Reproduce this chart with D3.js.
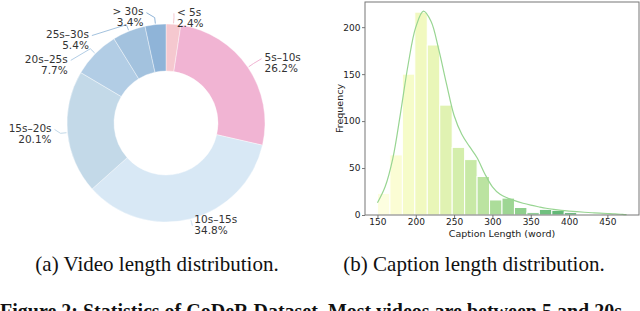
<!DOCTYPE html>
<html>
<head>
<meta charset="utf-8">
<script src="https://cdn.jsdelivr.net/npm/d3@7"></script>
<style>
  body { margin: 0; background: #fff; }
  svg { display: block; }
</style>
</head>
<body>
<div id="chart"></div>
<script>
// Video length shares (percent)
const lengthBins = ["< 5s", "5s–10s", "10s–15s", "15s–20s", "20s–25s", "25s–30s", "> 30s"];
const lengthShare = [2.4, 26.2, 34.8, 20.1, 7.7, 5.4, 3.4];

// Caption length histogram: 20 bins from 150 to 475 words
const binStart = 150;
const binWidth = 16.25;
const binCounts = [23, 64, 150, 216, 181, 117, 72, 59, 41, 16, 18, 8, 2.5, 6, 5, 2.5, 0, 1, 1.2, 0.6];

// Smoothed density curve (word, frequency)
const kdeWords = [150, 160, 170, 180, 190, 200, 210, 220, 230, 240, 250, 260, 270, 280, 290, 300,
                  310, 320, 330, 340, 350, 360, 370, 380, 390, 400, 410, 420, 430, 440, 450, 460, 470, 475];
const kdeFreq  = [13, 30, 60, 108, 160, 200, 217, 206, 176, 140, 106, 86, 73, 61, 44, 30,
                  22, 18, 15, 12.5, 10.5, 8.8, 7.2, 6, 5, 4.2, 3.5, 2.9, 2.4, 2, 1.6, 1.2, 0.6, 0.3];

const xTicks = [150, 200, 250, 300, 350, 400, 450];
const yTicks = [0, 50, 100, 150, 200];

const sliceColors = ["#f5c8cf", "#f1b4d3", "#d8e8f5", "#c3d9e8", "#b2cde5", "#a3c2de", "#8fb4d8"];

const width = 640;
const height = 311;

const svg = d3.select("#chart").append("svg")
    .attr("width", width)
    .attr("height", height);

// ---------- (a) donut ----------
const cx = 166, cy = 123;
const outerR = 99, innerR = 52;

const pie = d3.pie().sort(null).value(d => d);
const arcs = pie(lengthShare);
const arc = d3.arc().innerRadius(innerR).outerRadius(outerR);

const donut = svg.append("g").attr("transform", `translate(${cx},${cy})`);

donut.selectAll("path")
    .data(arcs)
    .join("path")
    .attr("d", arc)
    .attr("fill", (d, i) => sliceColors[i])
    .attr("stroke", "#fff")
    .attr("stroke-width", 0.4);

// labels sit on a ring outside the donut, nudged apart by hand
const labelR = 118;
const labelNudge = [[2, 12], [1, 6], [-1, -12], [3, -1], [-14, 24], [-33, 26], [-10, 11]];

arcs.forEach((d, i) => {
    const mid = (d.startAngle + d.endAngle) / 2;
    const right = Math.sin(mid) >= 0;
    const lx = Math.sin(mid) * labelR + labelNudge[i][0];
    const ly = -Math.cos(mid) * labelR + labelNudge[i][1];

    // leader line
    const p1 = [Math.sin(mid) * (outerR + 1), -Math.cos(mid) * (outerR + 1)];
    const p2 = [Math.sin(mid) * (outerR + 7), -Math.cos(mid) * (outerR + 7)];
    const p3 = [lx + (right ? -3 : 3), ly - 4];
    donut.append("polyline")
        .attr("points", [p1, p2, p3].map(p => p.join(",")).join(" "))
        .attr("fill", "none")
        .attr("stroke", sliceColors[i])
        .attr("stroke-width", 1);

    const t = donut.append("text")
        .attr("font-family", "DejaVu Sans, sans-serif")
        .attr("font-size", 10.5)
        .attr("fill", "#333")
        .attr("text-anchor", right ? "start" : "end");
    t.append("tspan").attr("x", lx).attr("y", ly - 1.8).text(lengthBins[i]);
    t.append("tspan").attr("x", lx).attr("y", ly + 9.2).text(lengthShare[i].toFixed(1) + "%");
});

// ---------- (b) histogram ----------
const plot = {left: 365, right: 639, top: 2, bottom: 215};
const dataMin = binStart, dataMax = binStart + binWidth * binCounts.length;
const pad = (dataMax - dataMin) * 0.05;

const x = d3.scaleLinear()
    .domain([dataMin - pad, dataMax + pad])
    .range([plot.left, plot.right]);

const y = d3.scaleLinear()
    .domain([0, d3.max(binCounts) * 1.05])
    .range([plot.bottom, plot.top]);

const barColor = i => d3.interpolateYlGn(0.03 + i * 0.042);

svg.append("g")
    .selectAll("rect")
    .data(binCounts)
    .join("rect")
    .attr("x", (d, i) => x(binStart + i * binWidth))
    .attr("y", d => y(d))
    .attr("width", x(binStart + binWidth) - x(binStart))
    .attr("height", d => y(0) - y(d))
    .attr("fill", (d, i) => barColor(i))
    .attr("fill-opacity", 0.85)
    .attr("stroke", "#fff")
    .attr("stroke-width", 1);

const line = d3.line()
    .x((d, i) => x(kdeWords[i]))
    .y(d => y(d))
    .curve(d3.curveCatmullRom);

svg.append("path")
    .datum(kdeFreq)
    .attr("d", line)
    .attr("fill", "none")
    .attr("stroke", "#98d592")
    .attr("stroke-width", 1.2);

// frame
svg.append("rect")
    .attr("x", plot.left)
    .attr("y", plot.top)
    .attr("width", plot.right - plot.left)
    .attr("height", plot.bottom - plot.top)
    .attr("fill", "none")
    .attr("stroke", "#777")
    .attr("stroke-width", 1);

const xAxis = svg.append("g")
    .attr("transform", `translate(0,${plot.bottom})`)
    .call(d3.axisBottom(x).tickValues(xTicks).tickSize(3).tickPadding(0.5));
const yAxis = svg.append("g")
    .attr("transform", `translate(${plot.left},0)`)
    .call(d3.axisLeft(y).tickValues(yTicks).tickSize(3).tickPadding(1.5));

[xAxis, yAxis].forEach(a => {
    a.select(".domain").remove();
    a.selectAll("line").attr("stroke", "#777");
    a.selectAll("text")
        .attr("font-family", "DejaVu Sans, sans-serif")
        .attr("font-size", 9)
        .attr("fill", "#222");
});

svg.append("text")
    .attr("x", (plot.left + plot.right) / 2)
    .attr("y", 237)
    .attr("text-anchor", "middle")
    .attr("font-family", "DejaVu Sans, sans-serif")
    .attr("font-size", 9.5)
    .attr("fill", "#222")
    .text("Caption Length (word)");

svg.append("text")
    .attr("transform", `translate(343,${(plot.top + plot.bottom) / 2}) rotate(-90)`)
    .attr("text-anchor", "middle")
    .attr("font-family", "DejaVu Sans, sans-serif")
    .attr("font-size", 9.5)
    .attr("fill", "#222")
    .text("Frequency");

// ---------- captions ----------
const captions = [["(a) Video length distribution.", 157], ["(b) Caption length distribution.", 474]];
captions.forEach(([txt, px]) => {
    svg.append("text")
        .attr("x", px)
        .attr("y", 271)
        .attr("text-anchor", "middle")
        .attr("font-family", "Liberation Serif, serif")
        .attr("font-size", 21)
        .attr("fill", "#111")
        .text(txt);
});

svg.append("text")
    .attr("x", 0)
    .attr("y", 318)
    .attr("font-family", "Liberation Serif, serif")
    .attr("font-size", 20)
    .attr("font-weight", "bold")
    .attr("fill", "#111")
    .text("Figure 2: Statistics of CoDeR Dataset. Most videos are between 5 and 20s");
</script>
</body>
</html>
